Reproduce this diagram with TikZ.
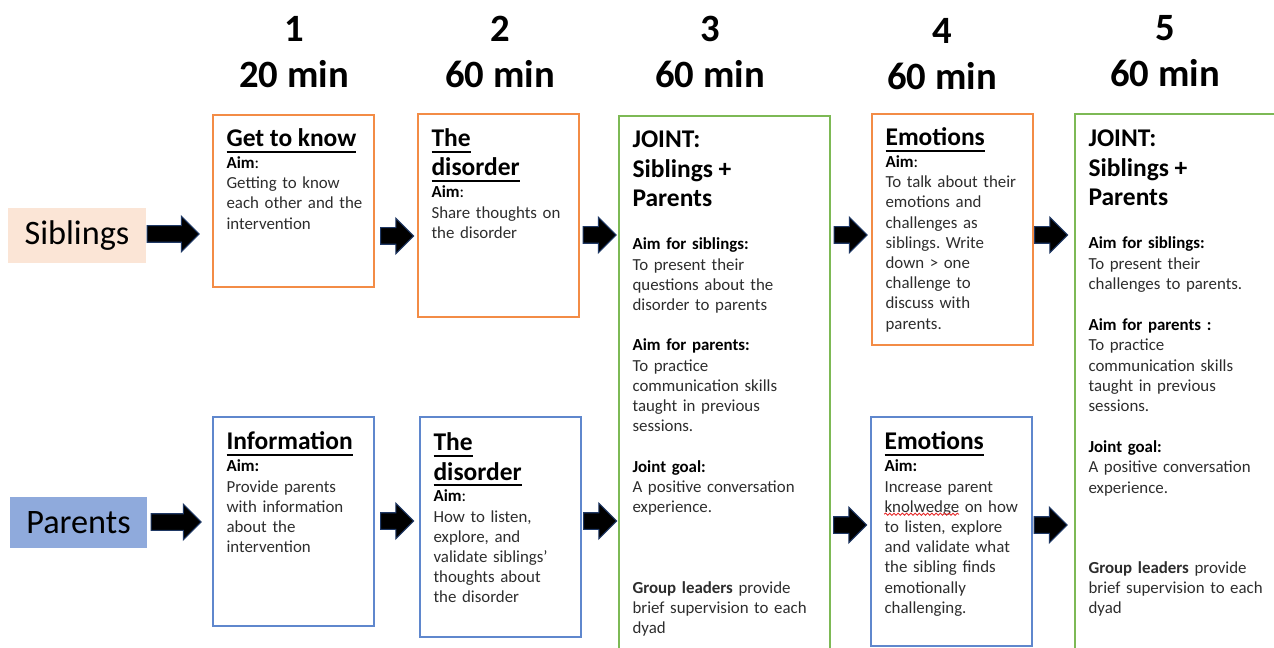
\documentclass[tikz,border=0pt]{standalone}
\usepackage{fontspec}
\setmainfont{Carlito}
\usetikzlibrary{shapes.arrows}
\usetikzlibrary{fit}
\usetikzlibrary{decorations.pathmorphing}
\definecolor{sibfill}{RGB}{251,229,214}
\definecolor{parfill}{RGB}{143,170,220}
\definecolor{sibline}{RGB}{243,140,70}
\definecolor{parline}{RGB}{95,135,205}
\definecolor{jointline}{RGB}{125,185,85}
\definecolor{arrline}{RGB}{31,56,100}
\definecolor{bodytext}{RGB}{45,45,45}
\definecolor{spellred}{RGB}{230,40,40}
\frenchspacing

\newcommand{\bodyfont}{\fontsize{9.6pt}{11.5pt}\selectfont}
% thick underline for the session titles
\newcommand{\uln}[1]{\leavevmode\setbox0\hbox{#1}\rlap{\vrule height -2.4pt depth 3.6pt width \wd0}\box0}
\newcommand{\boxtitle}[1]{{\fontsize{14.5pt}{16.8pt}\selectfont\bfseries\color{black}\rule{0pt}{11pt}#1\par}}
\newcommand{\aimhead}[1]{{\fontsize{9.6pt}{12.5pt}\selectfont\color{black}#1\par}}

\tikzset{
  hdr/.style={font=\fontsize{22pt}{22pt}\selectfont\bfseries, anchor=base, inner sep=0},
  group/.style={inner sep=0, font=\fontsize{19.5pt}{20pt}\selectfont},
  frame/.style={draw, line width=0.9pt, inner sep=0},
  sibbox/.style={frame, draw=sibline},
  parbox/.style={frame, draw=parline},
  jointbox/.style={frame, draw=jointline},
  txt/.style={anchor=north west, inner sep=0, text width=4cm, align=left, font=\bodyfont, text=bodytext},
  flow/.style={single arrow, fill=black, draw=arrline, line width=0.6pt, inner xsep=0,
    inner ysep=0.155cm, minimum width=0.69cm, single arrow head extend=0.19cm},
  spell/.style={spellred, line width=0.5pt, decorate,
    decoration={snake, amplitude=0.6pt, segment length=2.4pt}}
}

\begin{document}
\begin{tikzpicture}[x=0.02cm, y=-0.02cm]
  \useasboundingbox (0,0) rectangle (1274,648);
  \clip (0,0) rectangle (1274,648);

  % session number and length
  \foreach \n/\x/\t/\dy in {1/294/20/0, 2/500/60/0, 3/710/60/0, 4/942/60/2, 5/1165/60/-1}{
    \node[hdr] (num\n) at (\x,{42+\dy}) {\n};
    \node[hdr] (dur\n) at (\x,{88+\dy}) {\t\ min};
  }

  % the two groups
  \node[group, fill=sibfill, minimum width=2.76cm, minimum height=1.1cm] (sib) at (77,235.5) {Siblings};
  \node[group, fill=parfill, minimum width=2.74cm, minimum height=1.02cm] (par) at (78.5,522.5) {Parents};

  % session frames
  \node[sibbox, fit={(213,115) (374,287)}] (sib1) {};
  \node[sibbox, fit={(418,114) (579,317)}] (sib2) {};
  \node[sibbox, fit={(872,114) (1033,345)}] (sib4) {};
  \node[parbox, fit={(213,417) (374,626)}] (par1) {};
  \node[parbox, fit={(420,417) (581,637)}] (par2) {};
  \node[parbox, fit={(871,417) (1032,646)}] (par4) {};
  \node[jointbox, fit={(619,116) (830,670)}] (joint3) {};
  \node[jointbox, fit={(1075,114) (1300,670)}] (joint5) {};

  % siblings sessions
  \node[txt] (sib1t) at ([shift={(14,12.6)}]sib1.north west) {%
    \boxtitle{\uln{Get to know}}
    \aimhead{\textbf{Aim}:}
    Getting to know\\each other and the\\intervention};
  \node[txt] (sib2t) at ([shift={(14,13.6)}]sib2.north west) {%
    \boxtitle{\uln{The}\\\uln{disorder}}
    \aimhead{\textbf{Aim}:}
    Share thoughts on\\the disorder};
  \node[txt] (sib4t) at ([shift={(14,12.6)}]sib4.north west) {%
    \boxtitle{\uln{Emotions}}
    \aimhead{\textbf{Aim}:}
    To talk about their\\emotions and\\challenges as\\siblings. Write\\down > one\\challenge to\\discuss with\\parents.};

  % parents sessions
  \node[txt] (par1t) at ([shift={(14,14)}]par1.north west) {%
    \boxtitle{\uln{Information}}
    \aimhead{\textbf{Aim:}}
    Provide parents\\with information\\about the\\intervention};
  \node[txt] (par2t) at ([shift={(14,14.6)}]par2.north west) {%
    \boxtitle{\uln{The}\\\uln{disorder}}
    \aimhead{\textbf{Aim}:}
    How to listen,\\explore, and\\validate siblings’\\thoughts about\\the disorder};
  \node[txt] (par4t) at ([shift={(14,14)}]par4.north west) {%
    \boxtitle{\uln{Emotions}}
    \aimhead{\textbf{Aim:}}
    Increase parent\\knolwedge on how\\to listen, explore\\and validate what\\the sibling finds\\emotionally\\challenging.};
  \coordinate (typo) at ([shift={(0,84)}]par4t.north west);
  \draw[spell] (typo) -- ++(75,0);

  % joint sessions
  \node[txt] (joint3t) at ([shift={(14,13)}]joint3.north west) {%
    \boxtitle{JOINT:\\Siblings +\\Parents}
    \vspace{12pt}
    \aimhead{\textbf{Aim for siblings:}}
    To present their\\questions about the\\disorder to parents\par
    \vspace{10.5pt}
    \aimhead{\textbf{Aim for parents:}}
    To practice\\communication skills\\taught in previous\\sessions.\par
    \vspace{10.5pt}
    \aimhead{\textbf{Joint goal:}}
    A positive conversation\\experience.\par
    \vspace{34.5pt}
    \textbf{Group leaders} provide\\brief supervision to each\\dyad};
  \node[txt] (joint5t) at ([shift={(14,14)}]joint5.north west) {%
    \boxtitle{JOINT:\\Siblings +\\Parents}
    \vspace{12pt}
    \aimhead{\textbf{Aim for siblings:}}
    To present their\\challenges to parents.\par
    \vspace{11pt}
    \aimhead{\textbf{Aim for parents :}}
    To practice\\communication skills\\taught in previous\\sessions.\par
    \vspace{11pt}
    \aimhead{\textbf{Joint goal:}}
    A positive conversation\\experience.\par
    \vspace{34pt}
    \textbf{Group leaders} provide\\brief supervision to each\\dyad};

  % block arrows along each row
  \foreach \nm/\x/\y/\len in {sarr0/169/234/1.04, sarr1/393/236/0.66, sarr2/595.5/235/0.66,
      sarr3/846.5/235/0.66, sarr4/1047/235/0.66,
      parr0/172/522/1.0, parr1/393/521/0.66, parr2/596/521/0.66,
      parr3/846/525/0.66, parr4/1046.5/525/0.66}{
    \node[flow, minimum height=\len cm] (\nm) at (\x,\y) {};
  }
\end{tikzpicture}
\end{document}
